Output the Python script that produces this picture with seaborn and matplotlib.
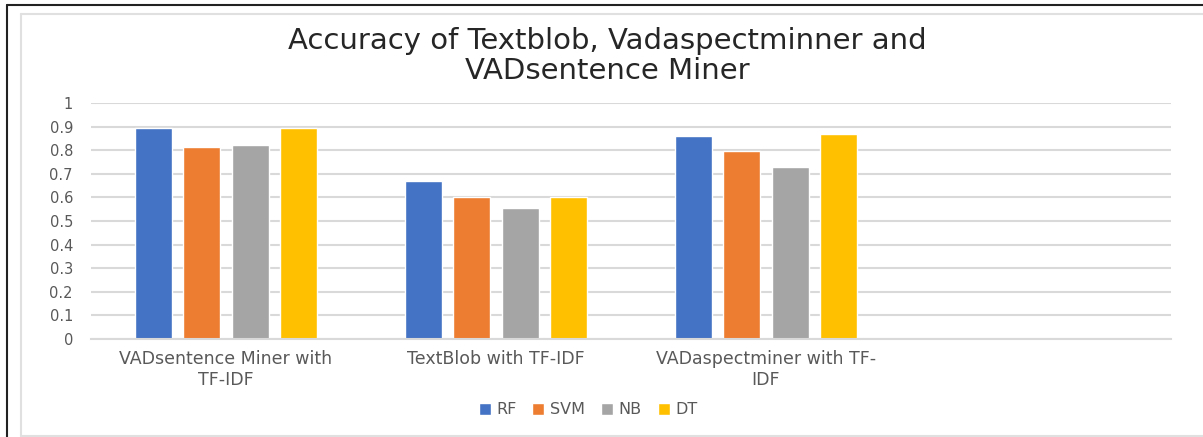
import pandas as pd
import seaborn as sns
import matplotlib.pyplot as plt
from matplotlib.lines import Line2D

# chart data
methods = ['VADsentence Miner with\nTF-IDF', 'TextBlob with TF-IDF', 'VADaspectminer with TF-\nIDF']
models = ['RF', 'SVM', 'NB', 'DT']
rf = [0.895, 0.67, 0.862]
svm = [0.813, 0.60, 0.798]
nb = [0.82, 0.557, 0.729]
dt = [0.895, 0.60, 0.867]
y_ticks = [0, 0.1, 0.2, 0.3, 0.4, 0.5, 0.6, 0.7, 0.8, 0.9, 1]
y_labels = ['0', '0.1', '0.2', '0.3', '0.4', '0.5', '0.6', '0.7', '0.8', '0.9', '1']
colors = ['#4472C4', '#ED7D31', '#A5A5A5', '#FFC000']

# long form table for seaborn
rows = []
for name, vals in zip(models, [rf, svm, nb, dt]):
    for m, v in zip(methods, vals):
        rows.append({'method': m, 'model': name, 'accuracy': v})
df = pd.DataFrame(rows)

sns.set_style('white')
plt.rcParams['font.family'] = ['DejaVu Sans']

fig = plt.figure(figsize=(12.03, 4.37), dpi=100)
ax = fig.add_axes([0.0756, 0.2243, 0.8978, 0.54])

sns.barplot(data=df, x='method', y='accuracy', hue='model', order=methods,
            hue_order=models, palette=colors, width=0.72, gap=0.24,
            saturation=1, ax=ax)

ax.set_xlim(-0.5, 3.5)
ax.set_ylim(0, 1)
ax.set_yticks(y_ticks)
ax.set_yticklabels(y_labels, color='#595959', fontsize=10.5)
ax.set_xlabel('')
ax.set_ylabel('')
ax.tick_params(axis='x', length=0, pad=8, labelsize=12.5, labelcolor='#595959')
ax.tick_params(axis='y', length=0, pad=13)
ax.yaxis.grid(True, color='#d9d9d9', linewidth=1.5)
ax.set_axisbelow(True)
for s in ['top', 'right', 'left']:
    ax.spines[s].set_visible(False)
ax.spines['bottom'].set_color('#d9d9d9')
ax.spines['bottom'].set_linewidth(1.5)

ax.legend(loc='center', bbox_to_anchor=(588 / 1203, 1 - 410 / 437),
          bbox_transform=fig.transFigure, ncol=4, frameon=False,
          fontsize=11.5, labelcolor='#595959', handlelength=0.75,
          handleheight=0.75, handletextpad=0.35, columnspacing=1.0)

fig.text(0.505, 1 - 56 / 437, 'Accuracy of Textblob, Vadaspectminner and\nVADsentence Miner',
         ha='center', va='center', fontsize=21, color='#262626',
         linespacing=1.1)

# outer frame lines
W, H = 1203, 437
fig.add_artist(Line2D([6.7 / W, 1], [1 - 4.7 / H] * 2, color='#222222', lw=1.5, transform=fig.transFigure))
fig.add_artist(Line2D([6.7 / W] * 2, [0, 1 - 4.7 / H], color='#222222', lw=1.5, transform=fig.transFigure))
fig.add_artist(Line2D([20.7 / W, 1], [1 - 14 / H] * 2, color='#e0e0e0', lw=1.5, transform=fig.transFigure))
fig.add_artist(Line2D([20.7 / W] * 2, [1 / H, 1 - 14 / H], color='#e0e0e0', lw=1.5, transform=fig.transFigure))
fig.add_artist(Line2D([20.7 / W, 1], [1 / H] * 2, color='#e0e0e0', lw=1.5, transform=fig.transFigure))

plt.savefig('out.png', dpi=100)
plt.close()
